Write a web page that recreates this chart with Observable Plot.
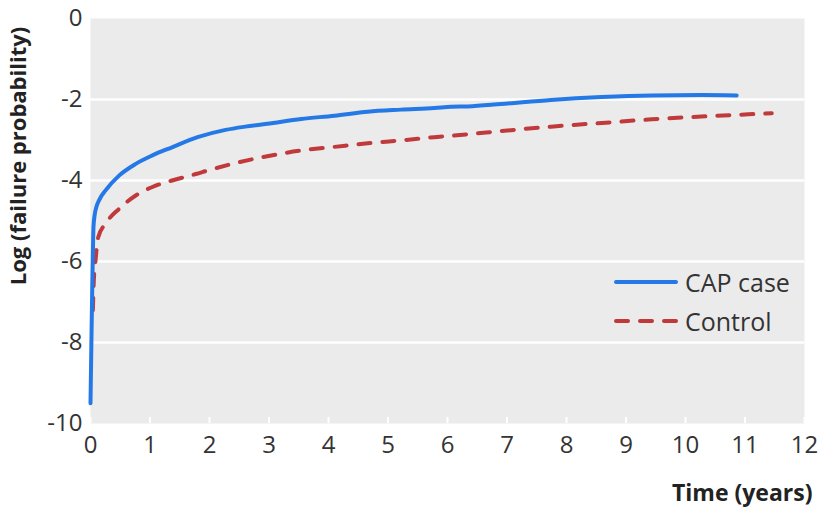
<!DOCTYPE html>
<html>
<head>
<meta charset="utf-8">
<script src="https://cdn.jsdelivr.net/npm/d3@7"></script>
<script src="https://cdn.jsdelivr.net/npm/@observablehq/plot@0.6"></script>
<style>
  html, body { margin: 0; padding: 0; background: #fff; }
  #wrap { position: relative; width: 824px; height: 508px; font-family: "Open Sans", sans-serif; }
  #legend { position: absolute; left: 613px; top: 262px; font-size: 25px; color: #333; }
  #legend .item { display: flex; align-items: center; height: 39px; }
  #legend svg { margin-right: 6px; }
</style>
</head>
<body>
<div id="wrap"><div id="legend"></div></div>
<script>
// Data
const caseTime = [0, 0.015, 0.03, 0.04, 0.05, 0.07, 0.1, 0.15, 0.25, 0.48, 0.76, 1.04, 1.37, 1.8, 2.27, 2.6, 2.97, 3.54, 4.10, 4.66, 5.22, 5.78, 6.06, 6.34, 6.9, 7.74, 8.59, 9.43, 10.27, 10.86];
const caseLog  = [-9.5, -8.0, -6.6, -5.8, -5.15, -4.85, -4.65, -4.47, -4.25, -3.88, -3.59, -3.38, -3.18, -2.93, -2.75, -2.67, -2.60, -2.48, -2.40, -2.30, -2.25, -2.21, -2.18, -2.17, -2.11, -2.01, -1.94, -1.90, -1.89, -1.90];
const controlTime = [0.04, 0.055, 0.08, 0.13, 0.25, 0.48, 0.76, 1.04, 1.37, 1.77, 2.0, 2.41, 2.97, 3.54, 4.1, 4.66, 5.22, 5.78, 6.34, 6.9, 7.74, 8.59, 9.43, 10.27, 11.0, 11.45];
const controlLog  = [-7.2, -6.5, -6.05, -5.4, -5.07, -4.70, -4.37, -4.16, -4.0, -3.84, -3.74, -3.58, -3.40, -3.26, -3.17, -3.08, -3.01, -2.93, -2.86, -2.78, -2.67, -2.58, -2.49, -2.42, -2.37, -2.34];
const seriesNames = ["CAP case", "Control"];
const xTicks = [0, 1, 2, 3, 4, 5, 6, 7, 8, 9, 10, 11, 12];
const yTicks = [0, -2, -4, -6, -8, -10];
const yGrid = [-2, -4, -6, -8];
const xTitle = "Time (years)";
const yTitle = "Log (failure probability)";

const blue = "#2479e6";
const red = "#c0393b";

const caseData = caseTime.map((t, i) => ({t, v: caseLog[i]}));
const controlData = controlTime.map((t, i) => ({t, v: controlLog[i]}));
const fmt = d => String(d); // hyphen-minus like the original

const chart = Plot.plot({
  width: 824,
  height: 508,
  marginLeft: 90,
  marginRight: 20,
  marginTop: 18,
  marginBottom: 85,
  style: {fontFamily: "'Open Sans', sans-serif", fontSize: "24px", color: "#333", background: "transparent"},
  x: {domain: [0, 12]},
  y: {domain: [-10, 0]},
  marks: [
    Plot.frame({fill: "#ebebeb", stroke: null}),
    Plot.gridY(yGrid, {stroke: "#fff", strokeOpacity: 1, strokeWidth: 2.5}),
    Plot.axisX(xTicks, {tickSize: -6, stroke: "#fff", strokeWidth: 2, text: null, label: null}),
    Plot.axisX(xTicks, {tickSize: 0, tickPadding: 12, fontSize: 24, fill: "#333", label: null, tickFormat: fmt}),
    Plot.axisY(yTicks, {tickSize: 0, tickPadding: 8, fontSize: 24, fill: "#333", label: null, tickFormat: fmt}),
    Plot.line(controlData, {x: "t", y: "v", stroke: red, strokeWidth: 4, strokeDasharray: "12,12", strokeLinecap: "round", curve: "monotone-x"}),
    Plot.line(caseData, {x: "t", y: "v", stroke: blue, strokeWidth: 4, strokeLinecap: "round", curve: "monotone-x"}),
    Plot.text([xTitle], {text: d => d, frameAnchor: "bottom-right", textAnchor: "end", lineAnchor: "middle", dx: 8, dy: 70, fontWeight: "bold", fontSize: 23, fill: "#222"}),
    Plot.text([yTitle], {text: d => d, frameAnchor: "left", textAnchor: "middle", lineAnchor: "middle", rotate: -90, dx: -72, dy: -65, fontWeight: "bold", fontSize: 22, fill: "#222"})
  ]
});
const wrap = document.getElementById("wrap");
wrap.insertBefore(chart, wrap.firstChild);

// Legend
const legend = document.getElementById("legend");
const styles = [{stroke: blue, dash: null}, {stroke: red, dash: "12,12"}];
seriesNames.forEach((name, i) => {
  const item = document.createElement("div");
  item.className = "item";
  const s = styles[i];
  item.innerHTML = `<svg width="66" height="10"><line x1="3" x2="63" y1="5" y2="5" stroke="${s.stroke}" stroke-width="4" stroke-linecap="round" ${s.dash ? `stroke-dasharray="${s.dash}"` : ""}/></svg><span>${name}</span>`;
  legend.appendChild(item);
});
</script>
</body>
</html>
